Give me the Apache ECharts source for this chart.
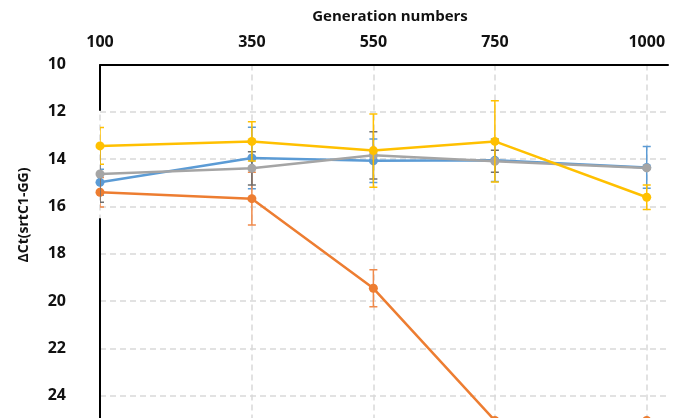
<!DOCTYPE html>
<html>
<head>
<meta charset="utf-8">
<script src="https://cdn.jsdelivr.net/npm/echarts@6/dist/echarts.min.js"></script>
<style>
  html, body { margin: 0; padding: 0; background: #fff; }
  #chart { width: 675px; height: 418px; }
</style>
</head>
<body>
<div id="chart"></div>
<script>
// Generation numbers on the x axis
const generations = [100, 350, 550, 750, 1000];

// ΔCt values per line, one value per generation
const blueValues   = [14.98, 13.95, 14.07, 14.05, 14.35];
const orangeValues = [15.40, 15.67, 19.46, 25.05, 25.05];
const grayValues   = [14.63, 14.39, 13.84, 14.09, 14.37];
const yellowValues = [13.44, 13.25, 13.64, 13.25, 15.61];

// Error bar half-widths (same order as generations)
const blueErrors   = [0.55, 1.30, 0.92, 0.90, 0.88];
const orangeErrors = [0.62, 1.11, 0.78, 0.00, 0.00];
const grayErrors   = [1.19, 0.70, 1.00, 0.47, 0.00];
const yellowErrors = [0.78, 0.83, 1.55, 1.72, 0.52];

// Tick labels
const xTicks = [100, 350, 550, 750, 1000];
const yTicks = [10, 12, 14, 16, 18, 20, 22, 24];

const FONT = '"Open Sans", "Liberation Sans", sans-serif';

const seriesDefs = [
  { name: 'Series 1', color: '#5B9BD5', errColor: '#5B9BD5', values: blueValues,   errors: blueErrors },
  { name: 'Series 2', color: '#ED7D31', errColor: '#F08A4B', values: orangeValues, errors: orangeErrors },
  { name: 'Series 3', color: '#A5A5A5', errColor: '#6F6F6F', values: grayValues,   errors: grayErrors },
  { name: 'Series 4', color: '#FFC000', errColor: '#FFC000', values: yellowValues, errors: yellowErrors }
];

function errorBarSeries(def, z) {
  const data = generations.map((g, i) => [g, def.values[i] - def.errors[i], def.values[i] + def.errors[i]]);
  return {
    type: 'custom',
    name: def.name + ' error',
    z: z,
    silent: true,
    clip: true,
    data: data,
    encode: { x: 0, y: [1, 2] },
    renderItem: function (params, api) {
      const x = api.value(0);
      const lo = api.value(1);
      const hi = api.value(2);
      if (hi - lo <= 0) return null;
      const pTop = api.coord([x, lo]);
      const pBot = api.coord([x, hi]);
      const half = 4;
      const style = { stroke: def.errColor, lineWidth: 1.5, fill: null };
      return {
        type: 'group',
        children: [
          { type: 'line', shape: { x1: pTop[0], y1: pTop[1], x2: pBot[0], y2: pBot[1] }, style: style },
          { type: 'line', shape: { x1: pTop[0] - half, y1: pTop[1], x2: pTop[0] + half, y2: pTop[1] }, style: style },
          { type: 'line', shape: { x1: pBot[0] - half, y1: pBot[1], x2: pBot[0] + half, y2: pBot[1] }, style: style }
        ]
      };
    }
  };
}

function lineSeries(def, z) {
  return {
    type: 'line',
    name: def.name,
    z: z,
    data: generations.map((g, i) => [g, def.values[i]]),
    symbol: 'circle',
    symbolSize: 9,
    showSymbol: true,
    clip: false,
    itemStyle: { color: def.color },
    lineStyle: { color: def.color, width: 2.5 },
    emphasis: { disabled: true },
    animation: false
  };
}

const series = [];
seriesDefs.forEach((def, i) => {
  series.push(errorBarSeries(def, 2 + i * 2));
  series.push(lineSeries(def, 3 + i * 2));
});

// Left axis drawn as two segments, broken where the data crowd the axis
series.push({
  type: 'line',
  name: 'axis',
  data: [],
  z: 1,
  markLine: {
    silent: true,
    symbol: 'none',
    animation: false,
    label: { show: false },
    lineStyle: { color: '#000', width: 2, type: 'solid' },
    data: [
      [{ coord: [100, 10] }, { coord: [100, 11.95] }],
      [{ coord: [100, 16.5] }, { coord: [100, 26] }]
    ]
  }
});

const chart = echarts.init(document.getElementById('chart'), null, { renderer: 'canvas' });
chart.setOption({
  animation: false,
  backgroundColor: '#fff',
  title: {
    text: 'Generation numbers',
    left: 385,
    textAlign: 'center',
    top: 4,
    textStyle: { fontFamily: FONT, fontWeight: 'bold', fontSize: 15, color: '#111' }
  },
  grid: { left: 100, right: 7, top: 64.5, height: 378.5, outerBoundsMode: 'none', containLabel: false },
  xAxis: {
    type: 'value',
    position: 'top',
    min: 100,
    max: 1035,
    axisLine: { show: true, onZero: false, lineStyle: { color: '#000', width: 2 } },
    axisTick: { show: false, customValues: xTicks },
    axisLabel: {
      customValues: xTicks,
      formatter: function (v) { return String(v); },
      margin: 14,
      fontFamily: FONT,
      fontWeight: 'bold',
      fontSize: 16,
      color: '#111'
    },
    splitLine: { show: true, lineStyle: { color: '#d9d9d9', width: 1.5, type: [6, 4] } }
  },
  yAxis: {
    type: 'value',
    inverse: true,
    min: 10,
    max: 26,
    interval: 2,
    axisLine: { show: false },
    axisTick: { show: false },
    axisLabel: {
      customValues: yTicks,
      formatter: function (v) { return String(v); },
      margin: 34,
      fontFamily: FONT,
      fontWeight: 'bold',
      fontSize: 16,
      color: '#111'
    },
    splitLine: { show: true, lineStyle: { color: '#d9d9d9', width: 1.5, type: [6, 4] } }
  },
  graphic: [{
    type: 'text',
    x: 24,
    y: 215,
    rotation: Math.PI / 2,
    style: {
      text: 'ΔCt(srtC1-GG)',
      fontFamily: FONT,
      fontWeight: 'bold',
      fontSize: 14,
      fill: '#111',
      textAlign: 'center',
      textVerticalAlign: 'middle'
    }
  }],
  series: series
});
</script>
</body>
</html>
